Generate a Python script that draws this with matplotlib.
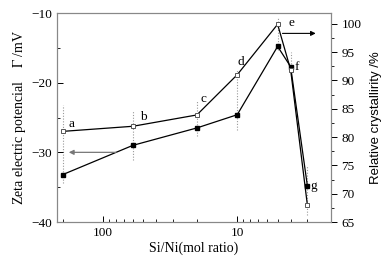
import numpy as np
import matplotlib
matplotlib.use('Agg')
import matplotlib.pyplot as plt
from matplotlib.ticker import MultipleLocator, LogLocator, NullFormatter, FixedLocator

plt.rcParams['font.family'] = 'Liberation Serif'
plt.rcParams['mathtext.fontset'] = 'stix'

# Si/Ni mol ratio of the samples
ratio = [200, 60, 20, 10, 5, 4, 3]
labels = ['a', 'b', 'c', 'd', 'e', 'f', 'g']
zeta = [-33.2, -29.0, -26.5, -24.6, -14.8, -17.7, -34.8]
cryst = [81.0, 81.9, 83.9, 91.0, 99.9, 91.9, 68.0]
# dotted spread lines (zeta units)
spread_lo = [-34.4, -31.1, -27.7, -26.8, -15.3, -18.9, -39.0]
spread_hi = [-23.2, -23.9, -22.5, -18.2, -10.6, -15.6, -31.8]
# label offsets in pixels (dx, dy), anchored on open or filled point
lab_off = [(6, 7), (7, 9), (4, 16), (0, 13), (11, 1), (4, 0), (3, 0)]
lab_on = ['c', 'c', 'c', 'c', 'c', 'z', 'z']

fig = plt.figure(figsize=(3.84, 2.58), dpi=100)
ax1 = fig.add_axes([0.148, 0.1395, 0.714, 0.8101])
ax2 = ax1.twinx()

ax1.set_xscale('log')
ax1.set_xlim(221, 2.0)
ax1.set_ylim(-40, -10)
ax2.set_ylim(65, 101.9)

for x, lo, hi in zip(ratio, spread_lo, spread_hi):
    ax1.plot([x, x], [lo, hi], ls=(0, (1, 1.5)), color='#999999', lw=0.8, zorder=1)

ax1.plot(ratio, zeta, '-s', color='black', lw=0.9, ms=3.5, mfc='black', zorder=3)
ax2.plot(ratio, cryst, '-s', color='black', lw=0.9, ms=3.5, mfc='white',
         mec='#555555', mew=0.7, zorder=3)

for i, lab in enumerate(labels):
    if lab_on[i] == 'c':
        ax2.annotate(lab, (ratio[i], cryst[i]), xytext=lab_off[i], textcoords='offset pixels',
                     fontsize=9.5, va='center', ha='left')
    else:
        ax1.annotate(lab, (ratio[i], zeta[i]), xytext=lab_off[i], textcoords='offset pixels',
                     fontsize=9.5, va='center', ha='left')

# arrows pointing to the axes
ax1.annotate('', xy=(180, -30), xytext=(80, -30),
             arrowprops=dict(arrowstyle='-|>', color='#777777', lw=0.9,
                             mutation_scale=7, shrinkA=0, shrinkB=0))
ax2.annotate('', xy=(2.6, 98.3), xytext=(4.6, 98.3),
             arrowprops=dict(arrowstyle='-|>', color='black', lw=0.8,
                             mutation_scale=7, shrinkA=0, shrinkB=0))

ax1.yaxis.set_major_locator(MultipleLocator(10))
ax1.yaxis.set_minor_locator(MultipleLocator(5))
ax1.xaxis.set_major_locator(FixedLocator([100, 10]))
ax1.xaxis.set_major_formatter(matplotlib.ticker.FixedFormatter(['100', '10']))
ax1.xaxis.set_minor_locator(LogLocator(base=10, subs=np.arange(2, 10)))
ax1.xaxis.set_minor_formatter(NullFormatter())
ax2.yaxis.set_major_locator(MultipleLocator(5))
ax2.yaxis.set_minor_locator(MultipleLocator(2.5))

ax1.tick_params(axis='both', which='major', direction='in', length=4, width=0.7, labelsize=9.5)
ax1.tick_params(axis='both', which='minor', direction='in', length=2.5, width=0.6)
ax1.tick_params(axis='y', which='minor', length=2.5)
ax2.tick_params(axis='y', which='major', direction='out', length=4, width=0.7, labelsize=9.5)
ax2.tick_params(axis='y', which='minor', direction='out', length=2.5, width=0.6)

for ax in (ax1, ax2):
    for s in ax.spines.values():
        s.set_color('#888888')
        s.set_linewidth(0.8)

ax1.set_xlabel('Si/Ni(mol ratio)', fontsize=10, labelpad=2)
ax1.set_ylabel('Zeta electric potencial    $\\mathit{\\Gamma}$ /mV', fontsize=10, labelpad=2)
ax2.set_ylabel('Relative crystallirity /%', fontsize=9.5, family='Liberation Sans', labelpad=6)

fig.savefig('out.png', dpi=100)
